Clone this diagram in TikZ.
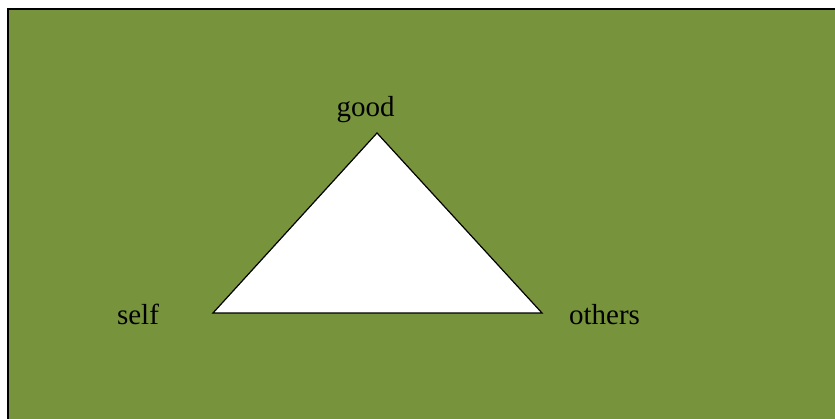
\documentclass[tikz,border=0pt]{standalone}
\usepackage{fontspec}
\setmainfont{Liberation Serif}
\usetikzlibrary{positioning}
\definecolor{bgOlive}{HTML}{77933C}

\begin{document}
\begin{tikzpicture}[
  x=1pt, y=-1pt,
  label/.style={font=\fontsize{29}{34}\selectfont, anchor=base, inner sep=0pt},
  tri/.style={draw=black, fill=white, line width=1.2pt, line join=miter}
]
  \useasboundingbox (0,0) rectangle (835,419);
  \draw[fill=bgOlive, draw=black, line width=1.6pt] (8,9) rectangle (850,440);

  \coordinate (apex) at (377,133);
  \coordinate (lft) at (213,313);
  \coordinate (rgt) at (542,313);
  \draw[tri] (apex) -- (lft) -- (rgt) -- cycle;

  \node[label] (good) at (365.5,117) {good};
  \node[label] (self) at (138,325) {self};
  \node[label] (others) at (604.5,325) {others};
\end{tikzpicture}
\end{document}
